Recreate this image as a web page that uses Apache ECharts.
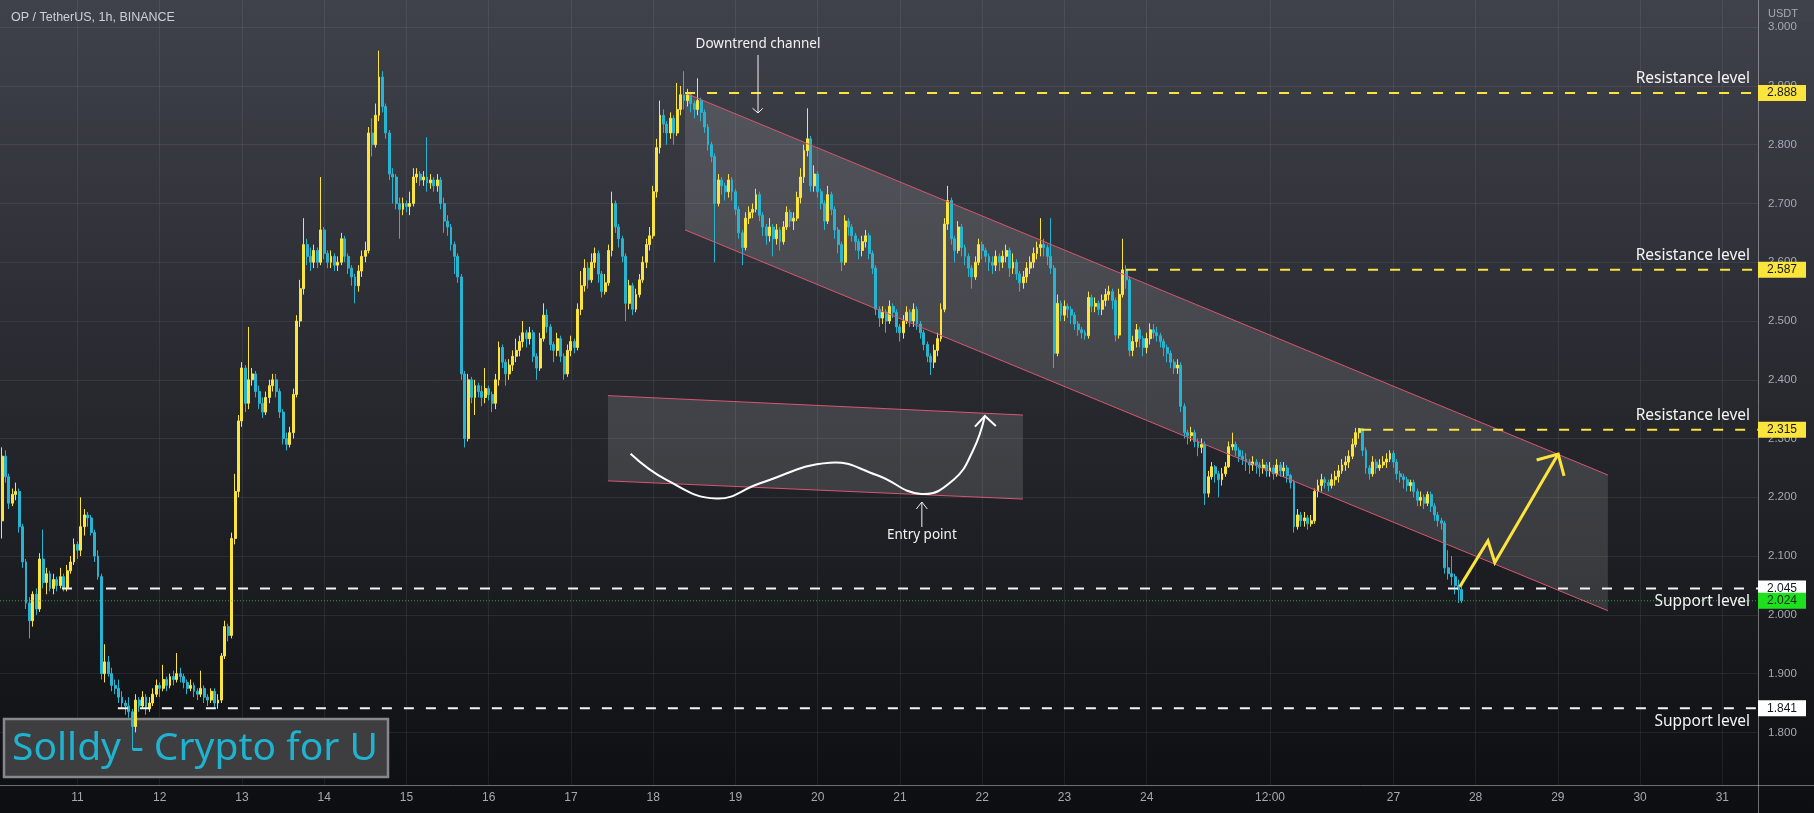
<!DOCTYPE html>
<html><head><meta charset="utf-8">
<script src="https://cdn.jsdelivr.net/npm/echarts@6/dist/echarts.min.js"></script>
<style>html,body{margin:0;padding:0;background:#111;} #c{width:1814px;height:813px;}</style>
</head><body><div id="c"></div>
<script>
// ---------------- data ----------------
const chartTitle = 'OP / TetherUS, 1h, BINANCE';
const startHour = 2;        // hours counted from day 10, 00:00 ; one candle per hour
const firstOpen = 2.16;
const closes = [
2.27,2.235,2.19,2.205,2.21,2.15,2.09,2.02,1.99,2.035,
2.01,2.095,2.055,2.07,2.045,2.06,2.05,2.065,2.045,2.075,
2.09,2.12,2.11,2.15,2.17,2.165,2.14,2.10,2.065,1.90,
1.92,1.90,1.88,1.875,1.86,1.85,1.845,1.835,1.81,1.855,
1.845,1.86,1.84,1.85,1.865,1.88,1.875,1.89,1.88,1.895,
1.89,1.90,1.895,1.885,1.875,1.88,1.87,1.865,1.875,1.86,
1.855,1.87,1.85,1.855,1.93,1.98,1.965,2.13,2.21,2.33,
2.42,2.36,2.40,2.41,2.38,2.36,2.345,2.37,2.39,2.40,
2.38,2.345,2.30,2.29,2.31,2.375,2.50,2.555,2.63,2.61,
2.60,2.62,2.60,2.655,2.615,2.60,2.61,2.595,2.60,2.64,
2.61,2.59,2.575,2.56,2.585,2.61,2.62,2.82,2.80,2.85,
2.915,2.865,2.82,2.75,2.745,2.70,2.69,2.70,2.695,2.70,
2.745,2.75,2.74,2.745,2.735,2.74,2.73,2.74,2.70,2.67,
2.66,2.63,2.61,2.575,2.41,2.30,2.40,2.37,2.39,2.38,
2.37,2.385,2.375,2.36,2.40,2.455,2.43,2.41,2.425,2.44,
2.45,2.465,2.48,2.47,2.48,2.44,2.42,2.47,2.51,2.49,
2.46,2.45,2.47,2.44,2.41,2.45,2.465,2.455,2.52,2.56,
2.59,2.57,2.60,2.615,2.58,2.55,2.565,2.62,2.70,2.66,
2.64,2.61,2.53,2.56,2.52,2.545,2.57,2.60,2.63,2.645,
2.72,2.795,2.85,2.835,2.82,2.845,2.82,2.86,2.885,2.875,
2.885,2.87,2.86,2.875,2.855,2.83,2.80,2.78,2.70,2.74,
2.73,2.72,2.74,2.72,2.69,2.65,2.625,2.675,2.685,2.69,
2.715,2.68,2.66,2.645,2.66,2.64,2.655,2.635,2.66,2.685,
2.67,2.675,2.71,2.745,2.79,2.81,2.73,2.75,2.72,2.70,
2.67,2.715,2.69,2.655,2.63,2.60,2.67,2.66,2.645,2.635,
2.62,2.635,2.645,2.615,2.59,2.52,2.505,2.515,2.50,2.525,
2.515,2.49,2.48,2.50,2.515,2.50,2.52,2.495,2.48,2.46,
2.44,2.43,2.45,2.47,2.52,2.665,2.705,2.64,2.62,2.66,
2.625,2.61,2.59,2.575,2.60,2.63,2.62,2.61,2.60,2.595,
2.61,2.60,2.61,2.62,2.59,2.60,2.58,2.565,2.575,2.59,
2.60,2.615,2.625,2.63,2.625,2.61,2.59,2.445,2.53,2.51,
2.525,2.52,2.51,2.495,2.485,2.48,2.475,2.54,2.525,2.53,
2.52,2.535,2.545,2.55,2.535,2.476,2.545,2.587,2.57,2.45,
2.465,2.485,2.47,2.455,2.47,2.485,2.48,2.475,2.465,2.455,
2.445,2.43,2.42,2.425,2.355,2.31,2.305,2.31,2.295,2.285,
2.29,2.207,2.235,2.252,2.24,2.23,2.24,2.252,2.286,2.29,
2.28,2.27,2.265,2.26,2.255,2.26,2.255,2.25,2.255,2.245,
2.25,2.24,2.255,2.245,2.25,2.237,2.225,2.15,2.17,2.16,
2.165,2.155,2.16,2.21,2.22,2.23,2.225,2.22,2.23,2.235,
2.245,2.255,2.26,2.27,2.29,2.31,2.317,2.28,2.25,2.24,
2.26,2.25,2.255,2.26,2.265,2.275,2.26,2.24,2.235,2.23,
2.22,2.225,2.21,2.195,2.20,2.19,2.205,2.185,2.17,2.16,
2.156,2.08,2.07,2.065,2.05,2.043,2.024];
const lows = [
2.13,2.225,2.18,2.185,2.195,2.14,2.08,2.01,1.96,1.98,
2.0,2.005,2.045,2.035,2.04,2.035,2.04,2.045,2.04,2.04,
2.07,2.085,2.095,2.10,2.135,2.15,2.135,2.09,2.06,1.89,
1.885,1.895,1.87,1.865,1.85,1.84,1.83,1.825,1.77,1.80,
1.835,1.84,1.83,1.835,1.845,1.86,1.86,1.87,1.87,1.875,
1.88,1.885,1.885,1.875,1.865,1.87,1.86,1.855,1.86,1.85,
1.845,1.85,1.84,1.84,1.85,1.925,1.955,1.96,2.12,2.20,
2.32,2.345,2.35,2.39,2.37,2.35,2.335,2.34,2.36,2.38,
2.37,2.335,2.29,2.28,2.285,2.30,2.37,2.49,2.545,2.595,
2.585,2.59,2.59,2.595,2.605,2.59,2.59,2.585,2.585,2.595,
2.60,2.58,2.56,2.53,2.55,2.575,2.60,2.615,2.78,2.795,
2.84,2.855,2.81,2.74,2.70,2.69,2.64,2.68,2.685,2.68,
2.695,2.735,2.73,2.73,2.72,2.725,2.72,2.72,2.69,2.65,
2.645,2.62,2.58,2.565,2.40,2.285,2.295,2.36,2.34,2.37,
2.355,2.36,2.365,2.345,2.35,2.39,2.42,2.39,2.40,2.415,
2.43,2.44,2.455,2.455,2.46,2.43,2.40,2.415,2.465,2.48,
2.45,2.43,2.44,2.43,2.40,2.405,2.44,2.445,2.45,2.51,
2.55,2.555,2.565,2.59,2.565,2.54,2.545,2.56,2.61,2.65,
2.625,2.60,2.50,2.52,2.51,2.515,2.54,2.565,2.59,2.62,
2.64,2.71,2.785,2.82,2.80,2.81,2.80,2.815,2.85,2.86,
2.865,2.855,2.845,2.85,2.84,2.82,2.79,2.77,2.60,2.695,
2.715,2.705,2.71,2.705,2.68,2.64,2.595,2.62,2.665,2.675,
2.685,2.67,2.645,2.63,2.635,2.61,2.63,2.62,2.63,2.655,
2.66,2.655,2.67,2.70,2.735,2.78,2.72,2.72,2.71,2.69,
2.655,2.665,2.68,2.64,2.615,2.585,2.595,2.645,2.635,2.62,
2.605,2.61,2.625,2.605,2.58,2.51,2.49,2.495,2.48,2.495,
2.505,2.48,2.465,2.47,2.495,2.49,2.49,2.485,2.47,2.45,
2.43,2.408,2.42,2.44,2.465,2.515,2.655,2.63,2.60,2.615,
2.61,2.595,2.575,2.555,2.57,2.595,2.605,2.60,2.585,2.58,
2.585,2.585,2.59,2.60,2.575,2.58,2.57,2.55,2.555,2.565,
2.58,2.59,2.605,2.61,2.61,2.595,2.58,2.42,2.44,2.50,
2.50,2.505,2.495,2.485,2.475,2.47,2.468,2.47,2.515,2.515,
2.51,2.51,2.525,2.535,2.52,2.465,2.47,2.54,2.555,2.44,
2.44,2.455,2.455,2.44,2.445,2.46,2.47,2.465,2.455,2.44,
2.43,2.42,2.41,2.41,2.345,2.30,2.29,2.295,2.285,2.27,
2.275,2.187,2.20,2.23,2.225,2.20,2.22,2.235,2.25,2.28,
2.27,2.26,2.255,2.245,2.24,2.245,2.24,2.235,2.24,2.235,
2.235,2.23,2.235,2.235,2.235,2.225,2.215,2.14,2.145,2.15,
2.15,2.145,2.15,2.155,2.20,2.21,2.215,2.21,2.215,2.22,
2.225,2.24,2.245,2.25,2.265,2.285,2.30,2.27,2.24,2.23,
2.235,2.24,2.245,2.25,2.25,2.26,2.25,2.23,2.225,2.215,
2.21,2.21,2.20,2.185,2.185,2.18,2.185,2.175,2.16,2.15,
2.145,2.07,2.06,2.05,2.035,2.02,2.02];
const highs = [
2.285,2.28,2.24,2.215,2.225,2.215,2.155,2.095,2.03,2.04,
2.045,2.105,2.145,2.08,2.075,2.07,2.065,2.08,2.07,2.085,
2.10,2.13,2.125,2.20,2.18,2.175,2.17,2.145,2.11,2.07,
1.95,1.93,1.91,1.89,1.89,1.87,1.855,1.86,1.84,1.865,
1.86,1.87,1.865,1.86,1.875,1.89,1.885,1.915,1.895,1.90,
1.905,1.935,1.91,1.90,1.89,1.89,1.885,1.875,1.905,1.88,
1.865,1.875,1.875,1.865,1.935,1.99,1.985,2.14,2.24,2.34,
2.43,2.425,2.49,2.42,2.415,2.39,2.37,2.38,2.40,2.41,
2.41,2.385,2.35,2.31,2.32,2.385,2.51,2.57,2.675,2.64,
2.625,2.63,2.625,2.745,2.66,2.62,2.62,2.615,2.61,2.65,
2.645,2.615,2.595,2.58,2.595,2.62,2.635,2.83,2.845,2.87,
2.96,2.925,2.87,2.825,2.76,2.75,2.71,2.71,2.705,2.72,
2.76,2.76,2.755,2.755,2.813,2.75,2.745,2.75,2.745,2.71,
2.68,2.665,2.635,2.615,2.58,2.415,2.41,2.405,2.40,2.395,
2.39,2.42,2.39,2.38,2.41,2.465,2.46,2.435,2.435,2.45,
2.47,2.475,2.50,2.485,2.49,2.485,2.445,2.48,2.53,2.52,
2.495,2.465,2.48,2.475,2.445,2.46,2.475,2.47,2.53,2.585,
2.605,2.60,2.615,2.625,2.62,2.585,2.58,2.63,2.72,2.705,
2.665,2.645,2.615,2.57,2.565,2.555,2.58,2.61,2.64,2.66,
2.73,2.81,2.875,2.86,2.84,2.855,2.85,2.905,2.90,2.925,
2.895,2.89,2.875,2.913,2.88,2.86,2.835,2.805,2.785,2.75,
2.745,2.735,2.75,2.745,2.725,2.695,2.655,2.685,2.695,2.70,
2.725,2.72,2.685,2.665,2.675,2.665,2.665,2.66,2.67,2.695,
2.69,2.685,2.72,2.76,2.80,2.862,2.815,2.765,2.755,2.725,
2.705,2.73,2.72,2.695,2.66,2.635,2.68,2.675,2.665,2.65,
2.64,2.645,2.655,2.65,2.62,2.595,2.525,2.525,2.52,2.535,
2.53,2.52,2.495,2.51,2.525,2.52,2.53,2.525,2.50,2.485,
2.465,2.445,2.46,2.48,2.53,2.675,2.73,2.71,2.645,2.67,
2.665,2.63,2.615,2.595,2.61,2.64,2.635,2.625,2.615,2.61,
2.62,2.615,2.62,2.63,2.625,2.615,2.605,2.585,2.585,2.60,
2.61,2.625,2.635,2.675,2.64,2.63,2.675,2.595,2.545,2.535,
2.535,2.53,2.525,2.515,2.50,2.49,2.485,2.55,2.545,2.54,
2.535,2.545,2.555,2.56,2.555,2.54,2.555,2.64,2.595,2.575,
2.475,2.495,2.49,2.475,2.48,2.496,2.495,2.49,2.48,2.47,
2.46,2.45,2.435,2.435,2.43,2.36,2.315,2.32,2.315,2.30,
2.30,2.295,2.245,2.26,2.255,2.245,2.25,2.26,2.295,2.31,
2.295,2.285,2.28,2.275,2.265,2.27,2.265,2.26,2.265,2.26,
2.26,2.255,2.265,2.26,2.26,2.255,2.24,2.23,2.18,2.175,
2.175,2.17,2.17,2.215,2.23,2.24,2.235,2.23,2.24,2.245,
2.255,2.265,2.27,2.28,2.30,2.318,2.318,2.318,2.285,2.255,
2.27,2.265,2.265,2.27,2.275,2.28,2.28,2.265,2.245,2.24,
2.235,2.23,2.23,2.215,2.21,2.205,2.21,2.21,2.19,2.175,
2.165,2.16,2.11,2.10,2.07,2.06,2.05];

const priceTicks = [1.8,1.9,2.0,2.1,2.2,2.3,2.4,2.5,2.6,2.7,2.8,2.9,3.0];
const timeTickHours = [24,48,72,96,120,144,168,192,216,240,264,288,312,336,372,408,432,456,480,504];
const timeTickLabels = ['11','12','13','14','15','16','17','18','19','20','21','22','23','24','12:00','27','28','29','30','31'];

const resistancePrices = [2.888, 2.587, 2.315];
const resistanceFrom   = [201.3, 330.0, 398.6];
const supportPrices    = [2.045, 1.841];
const supportFrom      = [19.5, 35.8];
const lastPrice = 2.024;

// drawings, in (hour, price)
const channel = [[201.3,2.888],[470.6,2.238],[470.6,2.007],[201.3,2.655]];
const patternBox = [[178.8,2.373],[299.9,2.340],[299.9,2.197],[178.8,2.228]];
const curvePath = [[185.4,2.274],[195.9,2.2295],[210.5,2.198],[223.2,2.224],[243.6,2.259],[257.2,2.238],[270.3,2.2057],[279.6,2.2295],[285.4,2.2806],[288.8,2.3384]];
const curveHead = [[285.9,2.3202],[288.8,2.3384],[292.0,2.3214]];
const forecastPath = [[427.4,2.048],[435.6,2.126],[437.6,2.089],[456.1,2.2737]];
const forecastHead = [[449.8,2.2635],[456.1,2.2737],[457.8,2.2363]];
const channelNote = {text:'Downtrend channel', at:[222.6,2.9718], arrow:[[222.6,2.9527],[222.6,2.854]], head:[[221.0,2.862],[222.6,2.854],[224.0,2.862]]};
const entryNote = {text:'Entry point', at:[270.4,2.1359], arrow:[[270.4,2.1495],[270.4,2.192]], head:[[268.8,2.1801],[270.4,2.192],[272.0,2.1801]]};
const watermark = 'Solldy - Crypto for U';

// ---------------- chart ----------------
const UP = '#fbe43c', DOWN = '#28b3d0';
const xMin = 1.4, xMax = 514.4, yMin = 1.7105, yMax = 3.0462;

const rows = closes.map((c, i) => {
  const o = i === 0 ? firstOpen : closes[i - 1];
  return [startHour + i, o, c, Math.min(lows[i], o, c), Math.max(highs[i], o, c)];
});

const chart = echarts.init(document.getElementById('c'));
const labelColor = '#a6a9b1';
chart.setOption({
  animation: false,
  backgroundColor: new echarts.graphic.LinearGradient(0, 0, 0, 1, [
    {offset: 0, color: '#40424b'}, {offset: 1, color: '#0d0e11'}]),
  textStyle: {fontFamily: '"Liberation Sans", Arial, sans-serif'},
  title: {text: chartTitle, left: 6, top: 6,
    textStyle: {color: '#cdd0d7', fontSize: 12.5, fontWeight: 'normal', fontFamily: '"Liberation Sans", Arial, sans-serif'}},
  grid: {left: 0, right: 56, top: 0, bottom: 28, containLabel: false, outerBoundsMode: 'none'},
  xAxis: {
    type: 'value', min: xMin, max: xMax,
    axisLine: {show: false},
    axisTick: {show: false, customValues: timeTickHours},
    axisLabel: {customValues: timeTickHours, color: labelColor, fontSize: 12, margin: 7,
      formatter: v => { const k = timeTickHours.indexOf(Math.round(v)); return k >= 0 ? timeTickLabels[k] : ''; }},
    splitLine: {show: true, lineStyle: {color: 'rgba(255,255,255,0.07)', width: 1}}
  },
  yAxis: {
    type: 'value', position: 'right', min: yMin, max: yMax, scale: true,
    axisLine: {show: false},
    axisTick: {show: false, customValues: priceTicks},
    axisLabel: {customValues: priceTicks, color: labelColor, fontSize: 11.5, margin: 10,
      formatter: v => v.toFixed(3)},
    splitLine: {show: true, lineStyle: {color: 'rgba(255,255,255,0.07)', width: 1}}
  },
  series: [{
    type: 'candlestick', data: rows, encode: {x: 0, y: [1, 2, 3, 4]},
    barWidth: 2.4, z: 3,
    itemStyle: {color: UP, color0: DOWN, borderColor: UP, borderColor0: DOWN, borderWidth: 1}
  }]
});

const P = (d) => chart.convertToPixel({gridIndex: 0}, d);
const Y = (p) => chart.convertToPixel({gridIndex: 0}, [xMin, p])[1];
const plotR = P([xMax, 2])[0];
const plotB = Y(yMin);
const els = [];
const txt = (x, y, text, font, fill, align, valign, z) => ({type: 'text', x, y, z: z || 6, silent: true,
  style: {text, font, fill, textAlign: align, textVerticalAlign: valign}});
const pline = (pts, stroke, w, z, dash, smooth) => ({type: 'polyline', z: z || 5, silent: true,
  shape: {points: pts.map(P), smooth: smooth || 0},
  style: {stroke, lineWidth: w, fill: null, lineDash: dash || null}});

// watermark box
els.push({type: 'rect', z: 1, silent: true, shape: {x: 4, y: 719, width: 384, height: 58},
  style: {fill: 'rgba(66,66,68,0.92)', stroke: '#88888c', lineWidth: 2.5}});
els.push(txt(12, 749, watermark, '39px "Noto Sans", sans-serif', '#1fb3cf', 'left', 'middle', 1));

// channel + pattern box
[channel, patternBox].forEach(poly => {
  els.push({type: 'polygon', z: 1, silent: true, shape: {points: poly.map(P)},
    style: {fill: 'rgba(255,255,255,0.13)', stroke: null}});
  els.push(pline([poly[0], poly[1]], '#d9566e', 1, 4));
  els.push(pline([poly[3], poly[2]], '#d9566e', 1, 4));
});

// white sketch curve
els.push(pline(curvePath, '#ffffff', 2, 5, null, 0.45));
els.push(pline(curveHead, '#ffffff', 2, 5));

// forecast arrow
els.push(pline(forecastPath, '#fbe43c', 3, 5));
els.push(pline(forecastHead, '#fbe43c', 3, 5));

// notes
[channelNote, entryNote].forEach(n => {
  const a = P(n.at);
  els.push(txt(a[0], a[1], n.text, '13.5px "Noto Sans", sans-serif', '#f2f2f2', 'center', 'middle', 6));
  els.push(pline(n.arrow, '#f2f2f2', 1, 5));
  els.push(pline(n.head, '#f2f2f2', 1, 5));
});

// last price dotted line
els.push({type: 'line', z: 4, silent: true, shape: {x1: 0, y1: Y(lastPrice), x2: plotR, y2: Y(lastPrice)},
  style: {stroke: 'rgba(70,200,70,0.75)', lineWidth: 1, lineDash: [1, 2]}});

// levels
const levelFont = '15.5px "Noto Sans", sans-serif';
const boxFont = '12px "Liberation Sans", Arial, sans-serif';
const addBox = (p, fill, fg) => {
  const y = Y(p);
  els.push({type: 'rect', z: 10, silent: true, shape: {x: plotR, y: y - 8, width: 48, height: 16}, style: {fill}});
  els.push(txt(plotR + 24, y, p.toFixed(3), boxFont, fg, 'center', 'middle', 11));
};
resistancePrices.forEach((p, i) => {
  const y = Y(p), x0 = P([resistanceFrom[i], p])[0];
  els.push({type: 'line', z: 4, silent: true, shape: {x1: x0, y1: y, x2: plotR, y2: y},
    style: {stroke: '#fbe43c', lineWidth: 2, lineDash: [10, 12]}});
  els.push(txt(plotR - 8, y - 14, 'Resistance level', levelFont, '#f4f4f4', 'right', 'middle', 6));
  addBox(p, '#fbe43c', '#131722');
});
supportPrices.forEach((p, i) => {
  const y = Y(p), x0 = P([supportFrom[i], p])[0];
  els.push({type: 'line', z: 4, silent: true, shape: {x1: x0, y1: y, x2: plotR, y2: y},
    style: {stroke: '#f4f4f4', lineWidth: 2, lineDash: [10, 12]}});
  els.push(txt(plotR - 8, y + 13, 'Support level', levelFont, '#f4f4f4', 'right', 'middle', 6));
  addBox(p, '#ffffff', '#131722');
});
addBox(lastPrice, '#1ee01e', '#0f2a10');

// scale separators, unit
els.push({type: 'line', z: 8, silent: true, shape: {x1: plotR + 0.5, y1: 0, x2: plotR + 0.5, y2: 813},
  style: {stroke: 'rgba(190,190,195,0.55)', lineWidth: 1}});
els.push({type: 'line', z: 8, silent: true, shape: {x1: 0, y1: plotB + 0.5, x2: 1814, y2: plotB + 0.5},
  style: {stroke: 'rgba(190,190,195,0.55)', lineWidth: 1}});
els.push({type: 'rect', z: 9, silent: true, shape: {x: plotR + 1, y: 0, width: 60, height: 22}, style: {fill: '#40424b'}});
els.push(txt(plotR + 10, 14, 'USDT', '11px "Liberation Sans", Arial, sans-serif', labelColor, 'left', 'middle', 10));

chart.setOption({graphic: {elements: els}});
</script>
</body></html>
